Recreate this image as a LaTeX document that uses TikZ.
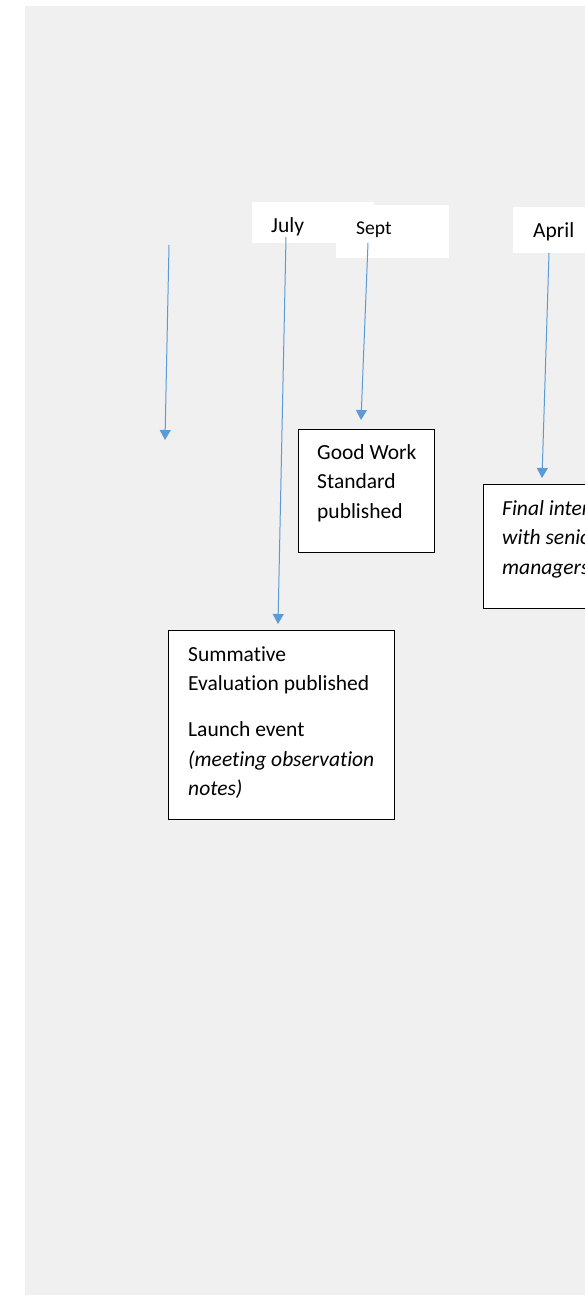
\documentclass[tikz,border=0pt]{standalone}
\usepackage{fontspec}
\setmainfont{Carlito}[RawFeature={-liga}]
\usetikzlibrary{arrows.meta}
\definecolor{pagegray}{RGB}{240,240,240}
\definecolor{linkblue}{RGB}{91,155,213}
\tikzset{
  stagebox/.style={draw=black, line width=1pt, fill=white, anchor=north west, inner sep=0pt},
  monthbox/.style={fill=white, anchor=north west, inner sep=0pt},
  bodytext/.style={anchor=base west, inner sep=0pt, font=\fontsize{21.5}{29.5}\selectfont},
  link/.style={draw=linkblue, line width=1pt, -{Triangle[width=11pt,length=10pt]}},
}
\begin{document}
\begin{tikzpicture}[x=1pt,y=-1pt]
\useasboundingbox (0,0) rectangle (585,1295);
\clip (0,0) rectangle (585,1295);
\fill[white] (0,0) rectangle (585,1295);
\fill[pagegray] (25,6) rectangle (585,1295);

% month labels
\node[monthbox, minimum width=122pt, minimum height=41pt] (julybox) at (252,202) {};
\node[monthbox, minimum width=113pt, minimum height=53pt] (septbox) at (336,205) {};
\node[monthbox, minimum width=90pt, minimum height=46pt] (aprilbox) at (513,207) {};
\node[bodytext] (julytxt) at (271,232) {July};
\node[bodytext, font=\fontsize{19.5}{24}\selectfont] (septtxt) at (356,234) {Sept};
\node[bodytext] (apriltxt) at (533,237) {April};

% event boxes
\node[stagebox, minimum width=136pt, minimum height=123pt] (goodwork) at (298,429) {};
\node[bodytext] (goodworktxt) at (317,459)
  {\parbox[t]{115pt}{Good Work\\Standard\\published}};

\node[stagebox, minimum width=226pt, minimum height=189pt] (summative) at (168,630) {};
\node[bodytext] (summativetxt) at (188,661)
  {\parbox[t]{205pt}{Summative\\Evaluation published\\[16.5pt]Launch event\\\textit{(meeting observation}\\\textit{notes)}}};

% this box runs past the right edge of the page, so its text is cut there
\node[stagebox, minimum width=200pt, minimum height=124pt] (final) at (483,484) {};
\node[bodytext] (finaltxt) at (502,515)
  {\parbox[t]{180pt}{\itshape Final interviews\\with senior\\managers}};

% connectors
\coordinate (leftstart) at (169,245);
\coordinate (lefttip) at (165,440);
\coordinate (julystart) at (286,237);
\coordinate (julytip) at (278,624);
\coordinate (septstart) at (368,243);
\coordinate (septtip) at (361,420);
\coordinate (aprilstart) at (549,253);
\coordinate (apriltip) at (542,478);

\draw[link] (leftstart) -- (lefttip);
\draw[link] (julystart) -- (julytip);
\draw[link] (septstart) -- (septtip);
\draw[link] (aprilstart) -- (apriltip);
\end{tikzpicture}
\end{document}
